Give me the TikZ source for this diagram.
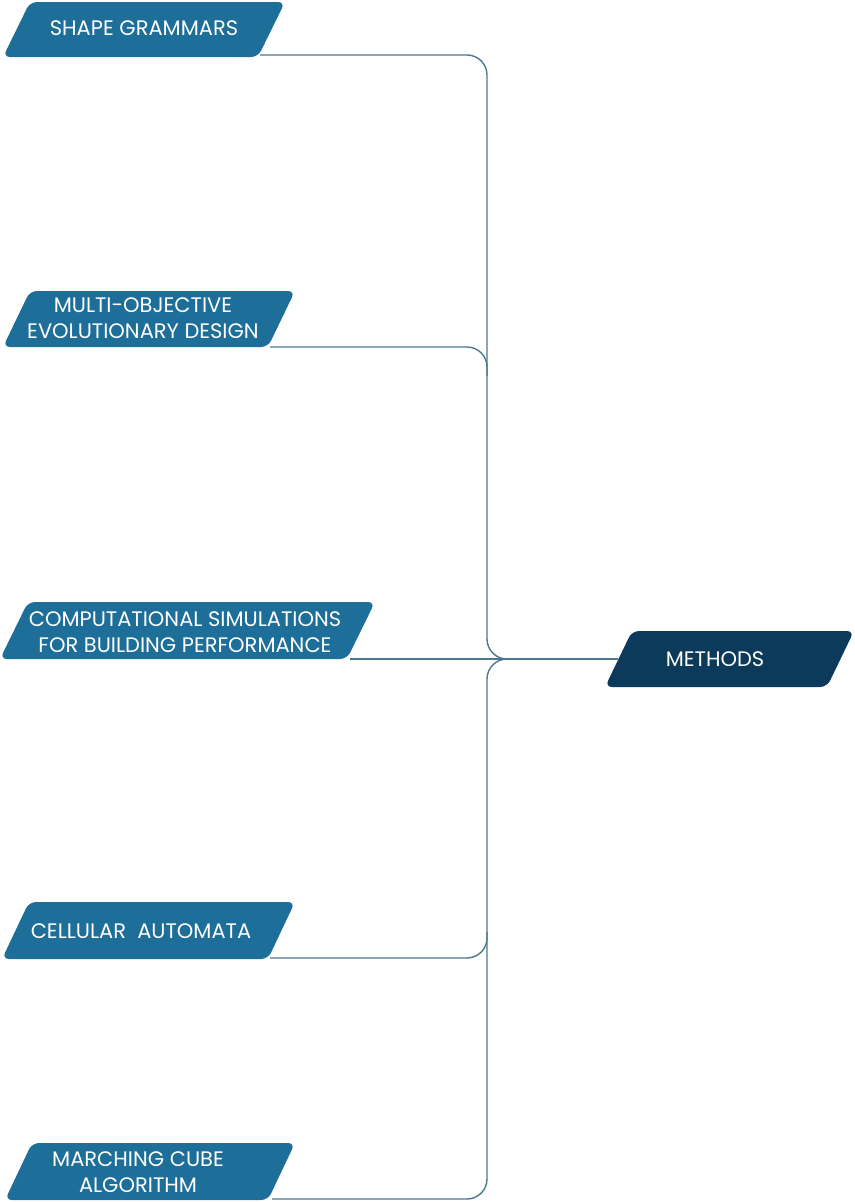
\documentclass[tikz,border=0pt]{standalone}
\usepackage{fontspec}
\setmainfont{Poppins}
\usetikzlibrary{calc}
\definecolor{boxblue}{HTML}{1D6E98}
\definecolor{navy}{HTML}{0C3A5B}
\definecolor{connc}{HTML}{4C7892}
\tikzset{
  lbl/.style={text=white, font=\fontsize{21}{26}\selectfont, align=center, inner sep=0pt},
  connector/.style={draw=connc, line width=1.4pt, rounded corners=20pt},
  slantfill/.style={rounded corners=7pt},
}
\begin{document}
\begin{tikzpicture}[x=1pt,y=-1pt]
\useasboundingbox (0,0) rectangle (854,1202);
% anchor points
\coordinate (hub) at (487,659);
\coordinate (moJ) at (487,376);
\coordinate (caJ) at (487,932);
\coordinate (mcJ) at (487,1199);
\coordinate (meW) at (618,659);
% connector ends at the boxes
\coordinate (sgA) at (260,55);
\coordinate (moA) at (270,347);
\coordinate (csA) at (350,659);
\coordinate (caA) at (270,958);
\coordinate (mcA) at (272,1199);
% connectors (drawn first, boxes on top)
\draw[connector] (sgA) -| (hub) -- (meW);
\draw[connector] (moA) -| (moJ);
\draw[connector] (csA) -- (meW);
\draw[connector] (caA) -| (caJ);
\draw[connector] (meW) -- (hub) -- (mcJ) -- (mcA);
% boxes
\fill[boxblue, slantfill] (3,57) -- (30,2) -- (285,2) -- (258,57) -- cycle;
\fill[boxblue, slantfill] (3,347) -- (30,291) -- (295,291) -- (268,347) -- cycle;
\fill[boxblue, slantfill] (0,659) -- (28,602) -- (375,602) -- (347,659) -- cycle;
\fill[boxblue, slantfill] (2,959) -- (29,902) -- (295,902) -- (268,959) -- cycle;
\fill[boxblue, slantfill] (5,1200) -- (32,1143) -- (295,1143) -- (268,1200) -- cycle;
\fill[navy, slantfill] (605,687) -- (632,631) -- (854,631) -- (827,687) -- cycle;
% labels
\node[lbl] (sg) at (144,28) {SHAPE GRAMMARS};
\node[lbl] (mo) at (143,318) {MULTI-OBJECTIVE\\EVOLUTIONARY DESIGN};
\node[lbl] (cs) at (185,632) {COMPUTATIONAL SIMULATIONS\\FOR BUILDING PERFORMANCE};
\node[lbl] (ca) at (141,931) {CELLULAR\ \ AUTOMATA};
\node[lbl] (mc) at (138,1172) {MARCHING CUBE\\ALGORITHM};
\node[lbl] (me) at (715,659) {METHODS};
\end{tikzpicture}
\end{document}
